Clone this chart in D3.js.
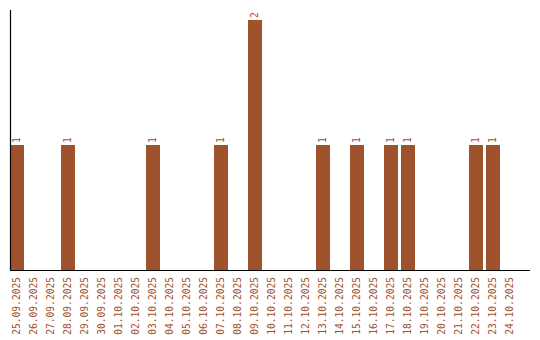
<!DOCTYPE html>
<html>
<head>
<meta charset="utf-8">
<script src="https://cdn.jsdelivr.net/npm/d3@7"></script>
<style>
  body { margin: 0; background: #fff; }
  svg { display: block; }
</style>
</head>
<body>
<svg width="540" height="340"></svg>
<script>
// dates shown on the x axis
var days = ["25.09.2025", "26.09.2025", "27.09.2025", "28.09.2025", "29.09.2025",
    "30.09.2025", "01.10.2025", "02.10.2025", "03.10.2025", "04.10.2025",
    "05.10.2025", "06.10.2025", "07.10.2025", "08.10.2025", "09.10.2025",
    "10.10.2025", "11.10.2025", "12.10.2025", "13.10.2025", "14.10.2025",
    "15.10.2025", "16.10.2025", "17.10.2025", "18.10.2025", "19.10.2025",
    "20.10.2025", "21.10.2025", "22.10.2025", "23.10.2025", "24.10.2025"];

// count per day
var counts = [1, 0, 0, 1, 0, 0, 0, 0, 1, 0,
    0, 0, 1, 0, 2, 0, 0, 0, 1, 0,
    1, 0, 1, 1, 0, 0, 0, 1, 1, 0];

var color = "#a0522d";
var svg = d3.select("svg");

var x = d3.scaleBand()
    .domain(days)
    .range([10, 520])
    .padding(0);

var barW = x.bandwidth() * 14 / 17;

var y = d3.scaleLinear()
    .domain([0, 2.08])
    .range([270, 10]);

var data = days.map(function (d, i) { return { day: d, value: counts[i] }; });

// bars
svg.append("g").selectAll("rect")
    .data(data.filter(function (d) { return d.value > 0; }))
    .enter().append("rect")
    .attr("x", function (d) { return x(d.day); })
    .attr("y", function (d) { return y(d.value); })
    .attr("width", barW)
    .attr("height", function (d) { return y(0) - y(d.value); })
    .attr("fill", color);

// value labels on top of bars
svg.append("g").selectAll("text")
    .data(data.filter(function (d) { return d.value > 0; }))
    .enter().append("text")
    .attr("transform", function (d) {
        return "translate(" + (x(d.day) + barW / 2) + "," + (y(d.value) - 2) + ") rotate(-90)";
    })
    .attr("dy", "0.35em")
    .attr("text-anchor", "start")
    .attr("font-family", "DejaVu Sans Mono, monospace")
    .attr("font-size", "9.6px")
    .attr("fill", color)
    .text(function (d) { return d.value; });

// x axis labels
var xAxis = d3.axisBottom(x).tickSize(0).tickSizeOuter(0);
var gx = svg.append("g")
    .attr("transform", "translate(0,270)")
    .call(xAxis);
gx.select(".domain").remove();
gx.selectAll(".tick").attr("transform", function (d) {
    return "translate(" + (x(d) + barW / 2) + ",0)";
});
gx.selectAll("text")
    .attr("transform", "rotate(-90)")
    .attr("x", -7)
    .attr("y", 0)
    .attr("dy", "0.35em")
    .attr("text-anchor", "end")
    .attr("font-family", "DejaVu Sans Mono, monospace")
    .attr("font-size", "9.6px")
    .attr("fill", color);

// axis lines
svg.append("line")
    .attr("x1", 10).attr("x2", 530)
    .attr("y1", 270.5).attr("y2", 270.5)
    .attr("stroke", "#000").attr("stroke-width", 1.2);
svg.append("line")
    .attr("x1", 10.5).attr("x2", 10.5)
    .attr("y1", 10).attr("y2", 270)
    .attr("stroke", "#000").attr("stroke-width", 1.2);
</script>
</body>
</html>
